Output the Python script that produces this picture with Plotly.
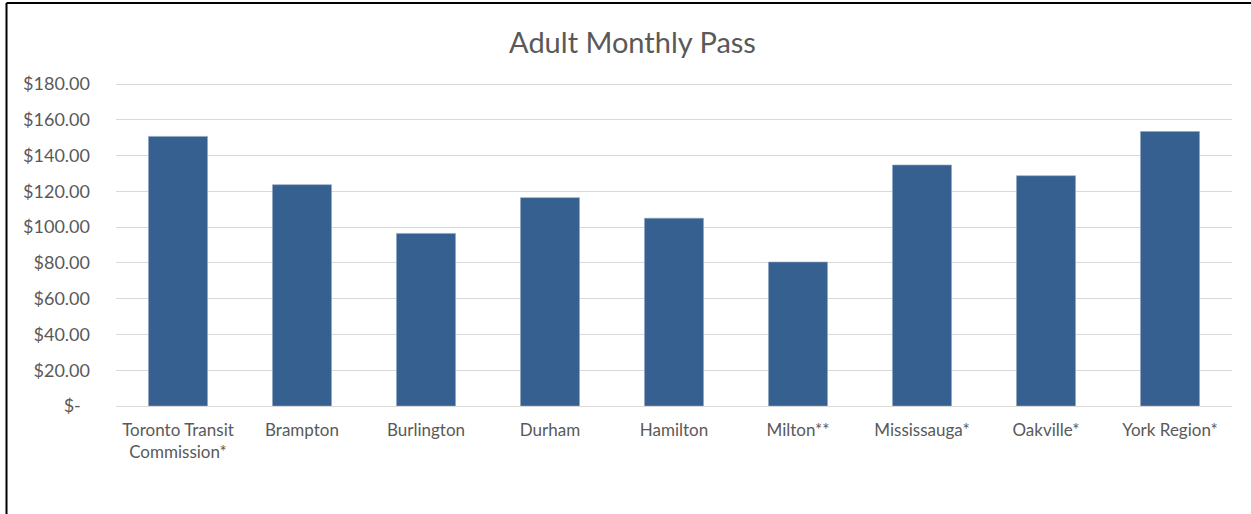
import plotly.graph_objects as go

# adult monthly pass price per transit agency
agencies = ["Toronto Transit<br>Commission*", "Brampton", "Burlington", "Durham",
            "Hamilton", "Milton**", "Mississauga*", "Oakville*", "York Region*"]
prices = [150.75, 123.75, 96.5, 116.5, 105.0, 80.5, 134.75, 128.75, 153.5]

y_ticks = [0, 20, 40, 60, 80, 100, 120, 140, 160, 180]
y_ticktext = ["$-\u00a0\u00a0", "$20.00", "$40.00", "$60.00", "$80.00", "$100.00",
              "$120.00", "$140.00", "$160.00", "$180.00"]

BAR = "#36608F"
GRID = "#D9D9D9"
TXT = "#595959"
FONT = "Lato"

fig = go.Figure()
fig.add_trace(go.Bar(x=agencies, y=prices,
                     marker=dict(color=BAR, line=dict(color="#8EA4C2", width=0.6)),
                     hovertemplate="%{x}: $%{y:.2f}<extra></extra>"))

# layout in pixels: $180 gridline at y=84.5, $0 at y=406.5
W, H = 1251, 514
L, R, B = 116, 19, 107.5
ymax = 180.6  # a bit over 180 so the top gridline is drawn
T = 84.5 - (ymax - 180) * (322 / 180)
pw, ph = W - L - R, H - T - B

# chart frame (only left and top edges are inside the picture)
fx = (6.5 - L) / pw
fy = (H - B - 3.5) / ph
fig.add_shape(type="line", xref="paper", yref="paper", x0=fx, x1=1.2, y0=fy, y1=fy,
              line=dict(color="black", width=2))
fig.add_shape(type="line", xref="paper", yref="paper", x0=fx, x1=fx, y0=fy, y1=-0.5,
              line=dict(color="black", width=2))

fig.update_layout(
    width=W, height=H,
    margin=dict(l=L, r=R, t=T, b=B),
    plot_bgcolor="white", paper_bgcolor="white",
    showlegend=False,
    bargap=0.524,
    font=dict(family=FONT, color=TXT, size=17),
    title=dict(text="Adult Monthly Pass", x=632.5 / W, xanchor="center",
               y=1 - 43 / H, yanchor="middle",
               font=dict(family=FONT, size=29, color=TXT)),
    xaxis=dict(showgrid=False, showline=False, ticks="", ticklabelstandoff=12,
               tickfont=dict(size=17, color=TXT), tickangle=0),
    yaxis=dict(range=[0, ymax], tickvals=y_ticks, ticktext=y_ticktext,
               showgrid=True, gridcolor=GRID, gridwidth=1.3,
               zeroline=True, zerolinecolor=GRID, zerolinewidth=1.3,
               showline=False, ticks="", ticklabelstandoff=25,
               tickfont=dict(size=18, color=TXT)),
)

# drop the browser's default 8px body margin so the figure sits at the page corner
fig.write_html("out.html", config={"displayModeBar": False},
               post_script="document.body.style.margin='0';")
